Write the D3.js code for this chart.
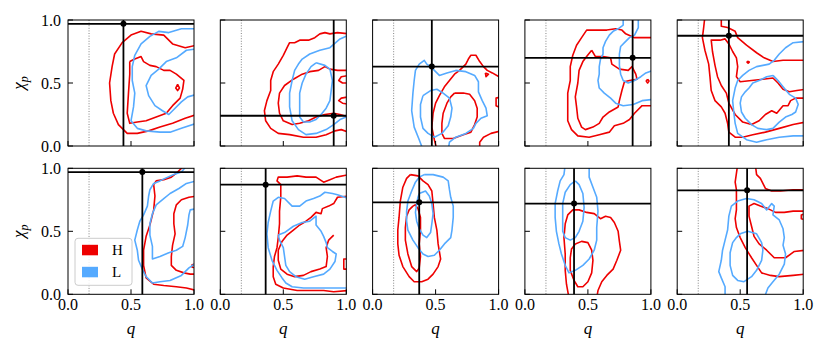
<!DOCTYPE html>
<html>
<head>
<meta charset="utf-8">
<script src="https://cdn.jsdelivr.net/npm/d3@7/dist/d3.min.js"></script>
<style>
  body { margin: 0; background: #fff; }
</style>
</head>
<body>
<div id="chart"></div>
<script>
// true values (crosshair) per panel, row by row
var qTrue   = [0.44, 0.90, 0.47, 0.855, 0.41, 0.59, 0.36, 0.37, 0.39, 0.555];
var chiTrue = [0.97, 0.24, 0.63, 0.70, 0.875, 0.97, 0.87, 0.73, 0.72, 0.825];
var qMin = 0.167;
var ticks = [0, 0.5, 1];
var tickLabels = ["0.0", "0.5", "1.0"];
var seriesNames = ["H", "L"];

// contour lines [q, chi]
var h1 = [
  [[1.02,0.8],[0.93,0.78],[0.83,0.81],[0.76,0.88],[0.66,0.89],[0.58,0.91],[0.5,0.88],[0.43,0.82],[0.37,0.73],[0.35,0.63],[0.33,0.5],[0.34,0.36],[0.36,0.26],[0.4,0.17],[0.47,0.1],[0.55,0.1],[0.64,0.12],[0.73,0.15],[0.83,0.18],[0.93,0.22],[1.02,0.25]],
  [[0.49,0.67],[0.53,0.69],[0.58,0.71],[0.6,0.67],[0.65,0.64],[0.7,0.63],[0.76,0.6],[0.81,0.6],[0.86,0.57],[0.92,0.52],[0.91,0.45],[0.89,0.38],[0.83,0.32],[0.78,0.26],[0.7,0.23],[0.62,0.2],[0.55,0.19],[0.49,0.18],[0.47,0.26],[0.48,0.42],[0.49,0.57]],
  [[0.87,0.49],[0.885,0.46],[0.87,0.44],[0.855,0.46]]
];
var l1 = [
  [[1.02,0.93],[0.9,0.93],[0.8,0.9],[0.72,0.91],[0.65,0.87],[0.58,0.81],[0.53,0.72],[0.51,0.63],[0.51,0.52],[0.53,0.42],[0.52,0.31],[0.5,0.2],[0.55,0.14],[0.62,0.12],[0.73,0.11],[0.81,0.11],[0.9,0.14],[1.02,0.18]],
  [[1.02,0.77],[0.94,0.76],[0.86,0.7],[0.78,0.67],[0.72,0.61],[0.66,0.56],[0.62,0.48],[0.64,0.4],[0.69,0.32],[0.75,0.28],[0.8,0.25],[0.83,0.28],[0.9,0.35],[0.95,0.39],[1.02,0.41]]
];
var h2 = [
  [[1.02,0.89],[0.93,0.9],[0.87,0.89],[0.83,0.9],[0.79,0.89],[0.75,0.86],[0.7,0.84],[0.63,0.84],[0.59,0.82],[0.55,0.82],[0.53,0.78],[0.5,0.72],[0.46,0.65],[0.42,0.59],[0.4,0.52],[0.4,0.44],[0.37,0.36],[0.35,0.28],[0.36,0.2],[0.4,0.14],[0.46,0.1],[0.55,0.09],[0.66,0.07],[0.76,0.07],[0.84,0.09],[0.91,0.12],[0.96,0.13],[1.02,0.11]],
  [[1.02,0.6],[0.93,0.6],[0.87,0.61],[0.83,0.63],[0.78,0.6],[0.71,0.59],[0.65,0.57],[0.58,0.53],[0.51,0.48],[0.47,0.42],[0.46,0.34],[0.47,0.26],[0.5,0.2],[0.57,0.17],[0.63,0.18],[0.7,0.2],[0.76,0.23],[0.83,0.25],[0.9,0.26],[0.95,0.25],[1.02,0.23]],
  [[1.02,0.5],[0.97,0.5],[0.94,0.52],[0.96,0.55],[1.02,0.56]],
  [[1.02,0.39],[0.96,0.38],[0.94,0.36],[0.97,0.34],[1.02,0.33]]
];
var l2 = [
  [[1.02,0.88],[0.95,0.85],[0.87,0.78],[0.79,0.76],[0.71,0.73],[0.65,0.69],[0.62,0.65],[0.59,0.6],[0.57,0.52],[0.55,0.42],[0.55,0.31],[0.57,0.2],[0.62,0.13],[0.68,0.09],[0.76,0.1],[0.84,0.13],[0.9,0.17],[0.95,0.21],[1.02,0.24]],
  [[0.76,0.66],[0.83,0.64],[0.87,0.61],[0.89,0.52],[0.88,0.44],[0.87,0.36],[0.84,0.3],[0.8,0.25],[0.76,0.21],[0.71,0.19],[0.66,0.19],[0.63,0.23],[0.63,0.31],[0.63,0.42],[0.65,0.5],[0.68,0.57],[0.72,0.63]]
];
var h3 = [
  [[0.51,-0.03],[0.49,0.05],[0.47,0.15],[0.48,0.26],[0.5,0.34],[0.53,0.4],[0.57,0.47],[0.61,0.52],[0.65,0.57],[0.69,0.6],[0.74,0.65],[0.76,0.69],[0.78,0.72],[0.82,0.72],[0.85,0.67],[0.88,0.63],[0.91,0.6],[0.95,0.58],[1.02,0.54]],
  [[1.02,0.12],[0.94,0.1],[0.88,0.07],[0.85,0.03],[0.85,-0.03]],
  [[0.895,0.58],[0.92,0.57],[0.9,0.55]],
  [[1.02,0.39],[0.98,0.38],[0.98,0.32],[1.02,0.3]],
  [[0.65,0.42],[0.72,0.42],[0.77,0.41],[0.81,0.36],[0.83,0.3],[0.83,0.23],[0.81,0.17],[0.78,0.11],[0.72,0.09],[0.64,0.06],[0.57,0.06],[0.55,0.1],[0.55,0.18],[0.56,0.26],[0.59,0.34],[0.62,0.39]]
];
var l3 = [
  [[0.4,-0.03],[0.37,0.05],[0.33,0.15],[0.31,0.28],[0.32,0.42],[0.33,0.52],[0.34,0.6],[0.37,0.65],[0.41,0.68],[0.43,0.65],[0.46,0.63],[0.49,0.6],[0.53,0.56],[0.59,0.58],[0.66,0.6],[0.74,0.59],[0.81,0.56],[0.84,0.51],[0.84,0.43],[0.87,0.36],[0.9,0.3],[0.91,0.24],[0.86,0.22],[0.82,0.18],[0.8,0.14],[0.74,0.1],[0.66,0.07],[0.61,0.03],[0.6,-0.03]],
  [[0.4,0.4],[0.46,0.44],[0.51,0.45],[0.56,0.42],[0.61,0.38],[0.63,0.3],[0.62,0.23],[0.6,0.16],[0.55,0.1],[0.49,0.07],[0.44,0.1],[0.4,0.14],[0.38,0.23],[0.38,0.33]]
];
var h4 = [
  [[1.02,0.86],[0.93,0.86],[0.87,0.86],[0.8,0.89],[0.77,0.92],[0.72,0.93],[0.65,0.92],[0.57,0.92],[0.49,0.92],[0.45,0.86],[0.41,0.8],[0.38,0.72],[0.36,0.63],[0.36,0.52],[0.34,0.42],[0.34,0.31],[0.34,0.2],[0.37,0.13],[0.42,0.08],[0.51,0.07],[0.59,0.09],[0.67,0.11],[0.71,0.16],[0.78,0.18],[0.83,0.21],[0.87,0.26],[0.93,0.32],[1.02,0.32]],
  [[0.53,0.76],[0.56,0.71],[0.62,0.71],[0.68,0.7],[0.69,0.65],[0.75,0.61],[0.82,0.6],[0.85,0.63],[0.88,0.57],[0.89,0.53],[0.83,0.52],[0.79,0.51],[0.77,0.44],[0.75,0.36],[0.74,0.31],[0.67,0.27],[0.62,0.23],[0.59,0.18],[0.54,0.15],[0.48,0.13],[0.45,0.15],[0.42,0.22],[0.41,0.31],[0.4,0.39],[0.42,0.5],[0.43,0.6],[0.46,0.67],[0.49,0.71]],
  [[0.974,0.53],[0.985,0.516],[0.974,0.5],[0.963,0.516]]
];
var l4 = [
  [[0.78,1.03],[0.78,0.96],[0.74,0.93],[0.7,0.91],[0.67,0.88],[0.64,0.83],[0.62,0.78],[0.62,0.73],[0.6,0.69],[0.59,0.63],[0.59,0.57],[0.58,0.52],[0.59,0.46],[0.63,0.42],[0.68,0.38],[0.72,0.34],[0.78,0.32],[0.86,0.33],[0.93,0.36],[1.02,0.37]],
  [[0.9,1.03],[0.9,0.94],[0.87,0.88],[0.83,0.86],[0.8,0.83],[0.76,0.79],[0.75,0.73],[0.75,0.64],[0.76,0.57],[0.78,0.52],[0.82,0.5],[0.87,0.52],[0.92,0.55],[0.96,0.58],[1.02,0.6]]
];
var h5 = [
  [[0.22,1.03],[0.21,0.94],[0.2,0.86],[0.22,0.76],[0.25,0.65],[0.26,0.55],[0.27,0.44],[0.3,0.36],[0.35,0.31],[0.38,0.26],[0.4,0.18],[0.41,0.11],[0.46,0.07],[0.52,0.07],[0.6,0.09],[0.7,0.11],[0.81,0.14],[0.92,0.17],[1.02,0.19]],
  [[0.35,1.03],[0.35,0.95],[0.4,0.94],[0.46,0.91],[0.48,0.86],[0.55,0.8],[0.63,0.74],[0.69,0.7],[0.76,0.67],[0.84,0.68],[0.92,0.68],[1.02,0.68]],
  [[1.02,0.38],[0.94,0.38],[0.9,0.36],[0.88,0.32],[0.84,0.32],[0.79,0.26],[0.75,0.28],[0.7,0.25],[0.65,0.2],[0.59,0.17],[0.52,0.19],[0.46,0.25],[0.41,0.34],[0.39,0.42],[0.35,0.48],[0.32,0.55],[0.3,0.64],[0.28,0.75],[0.27,0.84],[0.34,0.84],[0.38,0.85],[0.41,0.81],[0.44,0.75],[0.47,0.7],[0.48,0.63],[0.47,0.55],[0.5,0.51],[0.59,0.52],[0.68,0.53],[0.76,0.54],[0.8,0.5],[0.84,0.45],[0.89,0.43],[0.95,0.44],[1.02,0.45]],
  [[0.563,0.675],[0.572,0.666],[0.563,0.657],[0.554,0.666]]
];
var l5 = [
  [[1.02,0.83],[0.92,0.82],[0.86,0.78],[0.81,0.73],[0.77,0.68],[0.73,0.65],[0.68,0.64],[0.63,0.63],[0.57,0.6],[0.52,0.56],[0.48,0.52],[0.46,0.46],[0.44,0.36],[0.45,0.26],[0.46,0.18],[0.48,0.1],[0.55,0.05],[0.63,0.03],[0.71,0.05],[0.81,0.07],[0.92,0.08],[1.02,0.08]],
  [[0.76,0.56],[0.8,0.52],[0.84,0.47],[0.89,0.41],[0.94,0.38],[0.96,0.33],[0.94,0.27],[0.91,0.25],[0.86,0.23],[0.81,0.19],[0.76,0.14],[0.71,0.13],[0.64,0.14],[0.59,0.17],[0.54,0.22],[0.51,0.27],[0.5,0.34],[0.51,0.39],[0.54,0.43],[0.57,0.46],[0.6,0.5],[0.65,0.52],[0.71,0.55]]
];
var h6 = [
  [[0.93,1.03],[0.87,0.97],[0.82,0.93],[0.76,0.91],[0.7,0.9],[0.68,0.87],[0.69,0.78],[0.68,0.67],[0.65,0.55],[0.62,0.46],[0.6,0.35],[0.6,0.23],[0.62,0.13],[0.68,0.08],[0.76,0.07],[0.86,0.06],[0.94,0.05],[1.02,0.03]],
  [[1.02,0.78],[0.96,0.77],[0.9,0.75],[0.86,0.71],[0.84,0.64],[0.84,0.56],[0.85,0.48],[0.83,0.39],[0.82,0.3],[0.82,0.23],[0.86,0.19],[0.92,0.17],[0.97,0.16],[1.02,0.16]],
  [[1.02,0.24],[0.985,0.235],[0.985,0.215],[1.02,0.21]]
];
var l6 = [
  [[0.95,1.03],[0.9,0.97],[0.84,0.95],[0.77,0.92],[0.73,0.9],[0.68,0.88],[0.65,0.83],[0.64,0.78],[0.63,0.7],[0.6,0.63],[0.57,0.58],[0.55,0.51],[0.53,0.43],[0.55,0.35],[0.56,0.27],[0.59,0.2],[0.62,0.14],[0.67,0.09],[0.73,0.1],[0.81,0.11],[0.9,0.15],[0.96,0.21],[1.02,0.25]],
  [[1.02,0.9],[0.94,0.88],[0.88,0.84],[0.81,0.8],[0.76,0.76],[0.7,0.71],[0.67,0.64],[0.65,0.56],[0.65,0.47],[0.67,0.38],[0.67,0.28],[0.73,0.3],[0.8,0.33],[0.86,0.35],[0.91,0.38],[0.93,0.45],[0.95,0.55],[0.96,0.63],[0.97,0.67],[1.02,0.68]]
];
var h7 = [
  [[1.02,0.95],[0.92,0.93],[0.87,0.91],[0.82,0.89],[0.76,0.93],[0.68,0.93],[0.61,0.94],[0.53,0.93],[0.46,0.93],[0.45,0.9],[0.48,0.87],[0.48,0.77],[0.47,0.66],[0.47,0.56],[0.46,0.45],[0.45,0.37],[0.43,0.3],[0.42,0.22],[0.42,0.14],[0.44,0.08],[0.5,0.05],[0.61,0.03],[0.71,0.03],[0.82,0.03],[0.9,0.02],[1.02,0.03]],
  [[1.02,0.78],[0.93,0.77],[0.9,0.72],[0.86,0.7],[0.81,0.68],[0.8,0.64],[0.76,0.65],[0.72,0.61],[0.68,0.58],[0.63,0.55],[0.58,0.51],[0.53,0.47],[0.49,0.42],[0.46,0.35],[0.46,0.27],[0.48,0.2],[0.53,0.16],[0.59,0.14],[0.66,0.15],[0.72,0.18],[0.79,0.2],[0.84,0.22],[0.85,0.3],[0.84,0.37],[0.86,0.43],[0.9,0.47]],
  [[1.02,0.28],[0.98,0.28],[0.98,0.2],[1.02,0.2]]
];
var l7 = [
  [[1.02,0.76],[0.93,0.79],[0.89,0.8],[0.83,0.81],[0.79,0.78],[0.74,0.76],[0.68,0.74],[0.63,0.7],[0.57,0.7],[0.51,0.76],[0.46,0.77],[0.42,0.74],[0.4,0.66],[0.38,0.57],[0.37,0.48],[0.38,0.37],[0.41,0.27],[0.45,0.19],[0.49,0.13],[0.52,0.09],[0.57,0.06],[0.66,0.05],[0.76,0.05],[0.9,0.05],[1.02,0.05]],
  [[0.46,0.47],[0.51,0.49],[0.58,0.54],[0.65,0.57],[0.71,0.58],[0.76,0.62],[0.76,0.55],[0.8,0.5],[0.82,0.46],[0.84,0.41],[0.85,0.37],[0.89,0.34],[0.92,0.32],[0.91,0.26],[0.87,0.2],[0.82,0.16],[0.74,0.14],[0.67,0.12],[0.6,0.14],[0.55,0.18],[0.52,0.23],[0.51,0.3],[0.5,0.37],[0.47,0.43]]
];
var h8 = [
  [[0.3,0.95],[0.36,0.94],[0.4,0.9],[0.44,0.87],[0.47,0.82],[0.48,0.72],[0.49,0.61],[0.51,0.51],[0.52,0.4],[0.54,0.28],[0.52,0.22],[0.48,0.16],[0.44,0.12],[0.39,0.1],[0.33,0.1],[0.29,0.14],[0.24,0.22],[0.21,0.31],[0.2,0.4],[0.2,0.51],[0.21,0.61],[0.22,0.74],[0.24,0.85],[0.27,0.92]],
  [[0.32,0.7],[0.34,0.71],[0.36,0.68],[0.38,0.61],[0.38,0.51],[0.37,0.4],[0.38,0.3],[0.37,0.21],[0.35,0.18],[0.31,0.22],[0.28,0.32],[0.26,0.43],[0.26,0.53],[0.27,0.62],[0.29,0.67]]
];
var l8 = [
  [[0.41,0.95],[0.48,0.95],[0.56,0.93],[0.6,0.9],[0.61,0.83],[0.62,0.77],[0.64,0.7],[0.64,0.61],[0.63,0.51],[0.62,0.45],[0.57,0.4],[0.53,0.35],[0.49,0.31],[0.44,0.3],[0.4,0.32],[0.36,0.37],[0.32,0.43],[0.28,0.51],[0.27,0.58],[0.27,0.66],[0.28,0.74],[0.31,0.82],[0.34,0.89],[0.37,0.93]],
  [[0.37,0.8],[0.42,0.82],[0.45,0.78],[0.47,0.72],[0.48,0.64],[0.47,0.56],[0.46,0.49],[0.43,0.45],[0.4,0.47],[0.37,0.52],[0.35,0.58],[0.34,0.65],[0.35,0.72],[0.36,0.77]]
];
var h9 = [
  [[0.35,-0.03],[0.33,0.08],[0.32,0.19],[0.32,0.32],[0.31,0.45],[0.32,0.56],[0.34,0.63],[0.38,0.67],[0.43,0.67],[0.49,0.65],[0.55,0.64],[0.6,0.6],[0.64,0.62],[0.68,0.61],[0.71,0.57],[0.74,0.5],[0.75,0.42],[0.76,0.35],[0.73,0.27],[0.7,0.2],[0.65,0.15],[0.61,0.1],[0.58,0.03],[0.57,-0.03]],
  [[0.4,0.4],[0.45,0.42],[0.5,0.41],[0.53,0.35],[0.54,0.27],[0.53,0.17],[0.5,0.1],[0.46,0.06],[0.42,0.06],[0.39,0.11],[0.36,0.19],[0.36,0.29],[0.37,0.36]]
];
var l9 = [
  [[0.32,1.03],[0.31,0.95],[0.28,0.9],[0.26,0.82],[0.24,0.72],[0.24,0.61],[0.25,0.5],[0.27,0.4],[0.29,0.32],[0.32,0.23],[0.35,0.17],[0.4,0.19],[0.46,0.23],[0.51,0.28],[0.55,0.35],[0.57,0.43],[0.57,0.53],[0.58,0.66],[0.57,0.77],[0.54,0.85],[0.51,0.93],[0.51,1.03]],
  [[0.4,0.9],[0.43,0.87],[0.46,0.8],[0.47,0.69],[0.46,0.58],[0.43,0.5],[0.4,0.45],[0.36,0.43],[0.32,0.45],[0.3,0.5],[0.3,0.61],[0.3,0.72],[0.32,0.81],[0.36,0.87]]
];
var h10 = [
  [[0.48,1.03],[0.47,0.96],[0.46,0.89],[0.47,0.83],[0.47,0.75],[0.47,0.67],[0.46,0.6],[0.47,0.53],[0.5,0.45],[0.54,0.37],[0.59,0.29],[0.63,0.23],[0.67,0.17],[0.74,0.15],[0.81,0.14],[0.92,0.15],[1.02,0.16]],
  [[0.62,1.03],[0.63,0.95],[0.66,0.92],[0.68,0.88],[0.7,0.84],[0.75,0.82],[0.82,0.82],[0.92,0.83],[1.02,0.83]],
  [[1.02,0.66],[0.92,0.66],[0.85,0.65],[0.78,0.65],[0.72,0.68],[0.66,0.7],[0.61,0.72],[0.57,0.7],[0.57,0.62],[0.59,0.54],[0.61,0.46],[0.65,0.4],[0.71,0.35],[0.77,0.29],[0.86,0.29],[0.93,0.34],[1.02,0.35]],
  [[1.02,0.64],[0.985,0.63],[0.985,0.6],[1.02,0.59]]
];
var l10 = [
  [[0.38,-0.03],[0.38,0.06],[0.35,0.13],[0.33,0.18],[0.35,0.27],[0.36,0.35],[0.38,0.43],[0.4,0.51],[0.41,0.62],[0.43,0.7],[0.48,0.74],[0.55,0.76],[0.61,0.75],[0.67,0.72],[0.71,0.67],[0.75,0.72],[0.77,0.7],[0.76,0.63],[0.81,0.59],[0.84,0.52],[0.85,0.45],[0.84,0.39],[0.86,0.32],[0.85,0.24],[0.81,0.16],[0.76,0.1],[0.72,0.05],[0.69,-0.03]],
  [[0.5,0.48],[0.56,0.5],[0.63,0.48],[0.67,0.41],[0.68,0.35],[0.67,0.27],[0.63,0.19],[0.59,0.14],[0.53,0.1],[0.48,0.11],[0.44,0.15],[0.42,0.23],[0.42,0.33],[0.44,0.41],[0.47,0.45]]
];

var hSets = [h1, h2, h3, h4, h5, h6, h7, h8, h9, h10];
var lSets = [l1, l2, l3, l4, l5, l6, l7, l8, l9, l10];

function init(){

    var w = 830;
    var h = 355;
    var size = 126;
    var left0 = 68, colStep = 152.3;
    var top0 = 20, rowStep = 148.3;
    var red = "#ee0000", blue = "#55aaff";
    var serif = "'Liberation Serif', 'DejaVu Serif', serif";

    var xScale = d3.scaleLinear().domain([0, 1]).range([0, size]);
    var yScale = d3.scaleLinear().domain([0, 1]).range([size, 0]);

    var svg = d3.select("#chart")
                .append("svg")
                .attr("width", w)
                .attr("height", h)
                .style("font-family", serif);

    var line = d3.line()
                 .x(function(d){ return xScale(d[0]); })
                 .y(function(d){ return yScale(d[1]); });

    // a contour whose both ends lie inside the box is a closed loop
    function inside(p){ return p[0] > 0.001 && p[0] < 0.999 && p[1] > 0.001 && p[1] < 0.999; }
    function path(pts){
        if (inside(pts[0]) && inside(pts[pts.length - 1])) pts = pts.concat([pts[0]]);
        return line(pts);
    }

    svg.append("defs").append("clipPath")
        .attr("id", "box")
        .append("rect")
        .attr("width", size)
        .attr("height", size);

    for (var i = 0; i < 10; i++) {
        var row = Math.floor(i / 5), col = i % 5;
        var g = svg.append("g")
                   .attr("transform", "translate(" + (left0 + col * colStep) + "," + (top0 + row * rowStep) + ")");

        var inner = g.append("g").attr("clip-path", "url(#box)");

        inner.append("line")
            .attr("x1", xScale(qMin)).attr("x2", xScale(qMin))
            .attr("y1", 0).attr("y2", size)
            .attr("stroke", "#777")
            .attr("stroke-width", 0.9)
            .attr("stroke-dasharray", "1,1.6");

        inner.selectAll("path.h")
            .data(hSets[i])
            .enter()
            .append("path")
            .attr("class", "h")
            .attr("d", path)
            .attr("fill", "none")
            .attr("stroke", red)
            .attr("stroke-width", 1.6)
            .attr("stroke-linejoin", "round");

        inner.selectAll("path.l")
            .data(lSets[i])
            .enter()
            .append("path")
            .attr("class", "l")
            .attr("d", path)
            .attr("fill", "none")
            .attr("stroke", blue)
            .attr("stroke-width", 1.6)
            .attr("stroke-linejoin", "round");

        // true value crosshair
        g.append("line")
            .attr("x1", xScale(qTrue[i])).attr("x2", xScale(qTrue[i]))
            .attr("y1", 0).attr("y2", size)
            .attr("stroke", "#000").attr("stroke-width", 1.8);
        g.append("line")
            .attr("x1", 0).attr("x2", size)
            .attr("y1", yScale(chiTrue[i])).attr("y2", yScale(chiTrue[i]))
            .attr("stroke", "#000").attr("stroke-width", 1.8);
        g.append("circle")
            .attr("cx", xScale(qTrue[i]))
            .attr("cy", yScale(chiTrue[i]))
            .attr("r", 3)
            .attr("fill", "#000");

        // inward ticks
        g.selectAll("line.xt")
            .data(ticks)
            .enter()
            .append("line")
            .attr("class", "xt")
            .attr("x1", function(d){ return xScale(d); })
            .attr("x2", function(d){ return xScale(d); })
            .attr("y1", size).attr("y2", size - 5)
            .attr("stroke", "#000").attr("stroke-width", 1);
        g.selectAll("line.yt")
            .data(ticks)
            .enter()
            .append("line")
            .attr("class", "yt")
            .attr("x1", 0).attr("x2", 5)
            .attr("y1", function(d){ return yScale(d); })
            .attr("y2", function(d){ return yScale(d); })
            .attr("stroke", "#000").attr("stroke-width", 1);

        g.append("rect")
            .attr("width", size)
            .attr("height", size)
            .attr("fill", "none")
            .attr("stroke", "#000")
            .attr("stroke-width", 1);

        if (row == 1) {
            g.selectAll("text.xl")
                .data(ticks)
                .enter()
                .append("text")
                .attr("class", "xl")
                .attr("x", function(d){ return xScale(d); })
                .attr("y", size + 16)
                .attr("text-anchor", "middle")
                .attr("font-family", serif)
                .attr("font-size", 16)
                .text(function(d, k){ return tickLabels[k]; });
            g.append("text")
                .attr("x", size / 2)
                .attr("y", size + 40)
                .attr("text-anchor", "middle")
                .attr("font-family", serif)
                .attr("font-size", 17)
                .attr("font-style", "italic")
                .text("q");
        }
        if (col == 0) {
            g.selectAll("text.yl")
                .data(ticks)
                .enter()
                .append("text")
                .attr("class", "yl")
                .attr("x", -7)
                .attr("y", function(d){ return yScale(d); })
                .attr("dy", "0.35em")
                .attr("text-anchor", "end")
                .attr("font-family", serif)
                .attr("font-size", 16)
                .text(function(d, k){ return tickLabels[k]; });
            var yl = g.append("text")
                .attr("transform", "translate(-44," + (size / 2) + ") rotate(-90)")
                .attr("text-anchor", "middle")
                .attr("font-family", serif)
                .attr("font-size", 17)
                .attr("font-style", "italic");
            yl.append("tspan").text("χ");
            yl.append("tspan").attr("font-size", 12).attr("dy", 4).text("p");
        }

        // legend in the first panel of the bottom row
        if (i == 5) {
            var leg = g.append("g").attr("transform", "translate(7,70)");
            leg.append("rect")
                .attr("width", 57).attr("height", 47)
                .attr("rx", 3)
                .attr("fill", "#fff").attr("fill-opacity", 0.85)
                .attr("stroke", "#ccc").attr("stroke-width", 1);
            var cols = [red, blue];
            seriesNames.forEach(function(name, k){
                leg.append("rect")
                    .attr("x", 7).attr("y", 6.5 + k * 22)
                    .attr("width", 16).attr("height", 10.5)
                    .attr("fill", cols[k]);
                leg.append("text")
                    .attr("x", 37).attr("y", 16.5 + k * 22)
                    .attr("font-family", serif)
                    .attr("font-size", 15)
                    .text(name);
            });
        }
    }
}
window.onload = init;
</script>
</body>
</html>
